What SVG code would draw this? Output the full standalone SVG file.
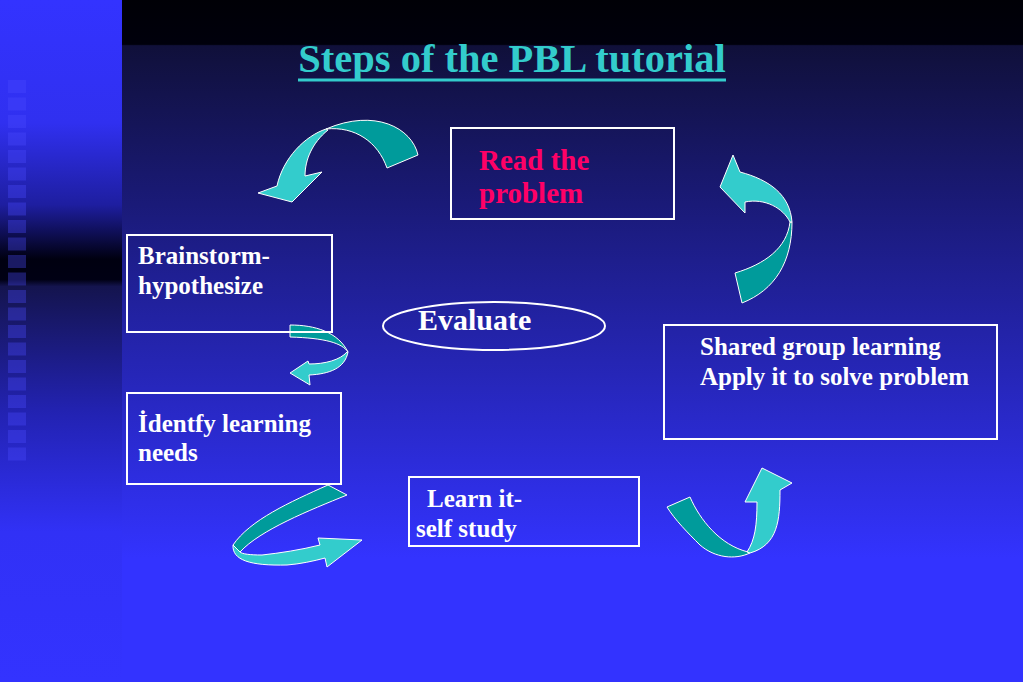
<svg xmlns="http://www.w3.org/2000/svg" width="1023" height="682" viewBox="0 0 1023 682">
<style>
.box{fill:none;stroke:#ffffff;stroke-width:2}
.t{font-family:"Liberation Serif","Times New Roman",serif;font-weight:bold;fill:#ffffff;font-size:25px}
.red{fill:#ff0066;font-size:29px}
.ev{font-size:30px}
.lt{fill:#33cccc;stroke:#ffffff;stroke-width:1;stroke-linejoin:round}
.dk{fill:#009b9b;stroke:#ffffff;stroke-width:1;stroke-linejoin:round}
.sq{fill:#4a4aff;opacity:0.35}
</style>
<defs>
<linearGradient id="gr" x1="0" y1="0" x2="0" y2="1">
<stop offset="0" stop-color="#000006"/>
<stop offset="0.065" stop-color="#00000c"/>
<stop offset="0.067" stop-color="#10103a"/>
<stop offset="0.3" stop-color="#1a1a78"/>
<stop offset="0.55" stop-color="#2626b8"/>
<stop offset="0.82" stop-color="#3333ff"/>
<stop offset="1" stop-color="#3333ff"/>
</linearGradient>
<linearGradient id="gl" x1="0" y1="0" x2="0" y2="1">
<stop offset="0" stop-color="#3333ff"/>
<stop offset="0.18" stop-color="#3030f0"/>
<stop offset="0.3" stop-color="#1e1ea0"/>
<stop offset="0.38" stop-color="#000010"/>
<stop offset="0.41" stop-color="#000014"/>
<stop offset="0.42" stop-color="#14144e"/>
<stop offset="0.6" stop-color="#2222b0"/>
<stop offset="0.78" stop-color="#3131f6"/>
<stop offset="1" stop-color="#3333ff"/>
</linearGradient>
</defs>
<g id="background">
<rect x="0" y="0" width="1023" height="682" fill="#3333ff"/>
<rect x="122" y="0" width="901" height="682" fill="url(#gr)"/>
<rect x="0" y="0" width="122" height="682" fill="url(#gl)"/>
<g id="squares">
<rect class="sq" x="8" y="80" width="18" height="13"/>
<rect class="sq" x="8" y="97.5" width="18" height="13"/>
<rect class="sq" x="8" y="115" width="18" height="13"/>
<rect class="sq" x="8" y="132.5" width="18" height="13"/>
<rect class="sq" x="8" y="150" width="18" height="13"/>
<rect class="sq" x="8" y="167.5" width="18" height="13"/>
<rect class="sq" x="8" y="185" width="18" height="13"/>
<rect class="sq" x="8" y="202.5" width="18" height="13"/>
<rect class="sq" x="8" y="220" width="18" height="13"/>
<rect class="sq" x="8" y="237.5" width="18" height="13"/>
<rect class="sq" x="8" y="255" width="18" height="13"/>
<rect class="sq" x="8" y="272.5" width="18" height="13"/>
<rect class="sq" x="8" y="290" width="18" height="13"/>
<rect class="sq" x="8" y="307.5" width="18" height="13"/>
<rect class="sq" x="8" y="325" width="18" height="13"/>
<rect class="sq" x="8" y="342.5" width="18" height="13"/>
<rect class="sq" x="8" y="360" width="18" height="13"/>
<rect class="sq" x="8" y="377.5" width="18" height="13"/>
<rect class="sq" x="8" y="395" width="18" height="13"/>
<rect class="sq" x="8" y="412.5" width="18" height="13"/>
<rect class="sq" x="8" y="430" width="18" height="13"/>
<rect class="sq" x="8" y="447.5" width="18" height="13"/>
</g>
</g>
<g id="title">
<text x="512" y="72" text-anchor="middle" font-family="Liberation Serif, Times New Roman, serif" font-weight="bold" font-size="40.5" fill="#33cccc">Steps of the PBL tutorial</text>
<rect x="298" y="78.5" width="428" height="3" fill="#33cccc"/>
</g>
<g id="connectors">
<g id="arrow-read-to-brainstorm">
<path class="dk" d="M418,155 C412,128 375,108 326,129 C355,126 378,142 387,168 Z"/>
<path class="lt" d="M326,129 C305,136 283,158 277,186 L258,193 L292,202 L322,172 L305,176 C305,160 312,143 328,130 Z"/>
</g>
<g id="arrow-brainstorm-to-identify">
<path class="dk" d="M290,325 C315,325 338,332 348,352 C342,343 325,338 290,337 Z"/>
<path class="lt" d="M348,352 C345,368 330,374 309,375 L310,385 L290,373 L308,361 L309,364 C325,364 340,360 347,352 Z"/>
</g>
<g id="arrow-identify-to-learn">
<path class="dk" d="M328,485 L347,495 C310,510 260,530 240,552 L233,545 C250,520 290,502 328,485 Z"/>
<path class="lt" d="M233,545 C232,560 250,566 287,565 C300,564 314,561 325,558 L327,567 L362,540 L318,538 L320,545 C300,550 280,553 262,555 C250,555 242,554 240,552 Z"/>
</g>
<g id="arrow-learn-to-shared">
<path class="dk" d="M667,507 L690,497 C700,520 720,545 748,552 L750,553 C735,560 715,558 700,545 C688,533 675,520 667,507 Z"/>
<path class="lt" d="M747,552 C755,540 757,525 757,502 L745,502 L762,468 L792,483 L780,490 C780,520 778,545 750,553 Z"/>
</g>
<g id="arrow-shared-to-read">
<path class="dk" d="M735,273 L742,303 C775,290 792,262 792,222 L790,222 C787,248 765,264 735,273 Z"/>
<path class="lt" d="M790,222 C783,208 765,198 745,202 L745,213 L720,187 L733,155 L740,172 C770,180 790,195 792,222 Z"/>
</g>
</g>
<g id="node-read">
<rect class="box" x="451" y="128" width="223" height="91"/>
<text class="t red" x="479" y="170">Read the</text>
<text class="t red" x="479" y="203">problem</text>
</g>
<g id="node-brainstorm">
<rect class="box" x="127" y="235" width="205" height="97"/>
<text class="t" x="138" y="264">Brainstorm-</text>
<text class="t" x="138" y="294">hypothesize</text>
</g>
<g id="node-evaluate">
<ellipse cx="494" cy="326" rx="111" ry="24" fill="none" stroke="#ffffff" stroke-width="2"/>
<text class="t ev" x="418" y="330">Evaluate</text>
</g>
<g id="node-shared">
<rect class="box" x="664" y="325" width="333" height="114"/>
<text class="t" x="700" y="355">Shared group learning</text>
<text class="t" x="700" y="385">Apply it to solve problem</text>
</g>
<g id="node-identify">
<rect class="box" x="127" y="393" width="214" height="91"/>
<text class="t" x="138" y="432">İdentfy learning</text>
<text class="t" x="138" y="461">needs</text>
</g>
<g id="node-learn">
<rect class="box" x="409" y="477" width="230" height="69"/>
<text class="t" x="427" y="507">Learn it-</text>
<text class="t" x="416" y="537">self study</text>
</g>
</svg>
